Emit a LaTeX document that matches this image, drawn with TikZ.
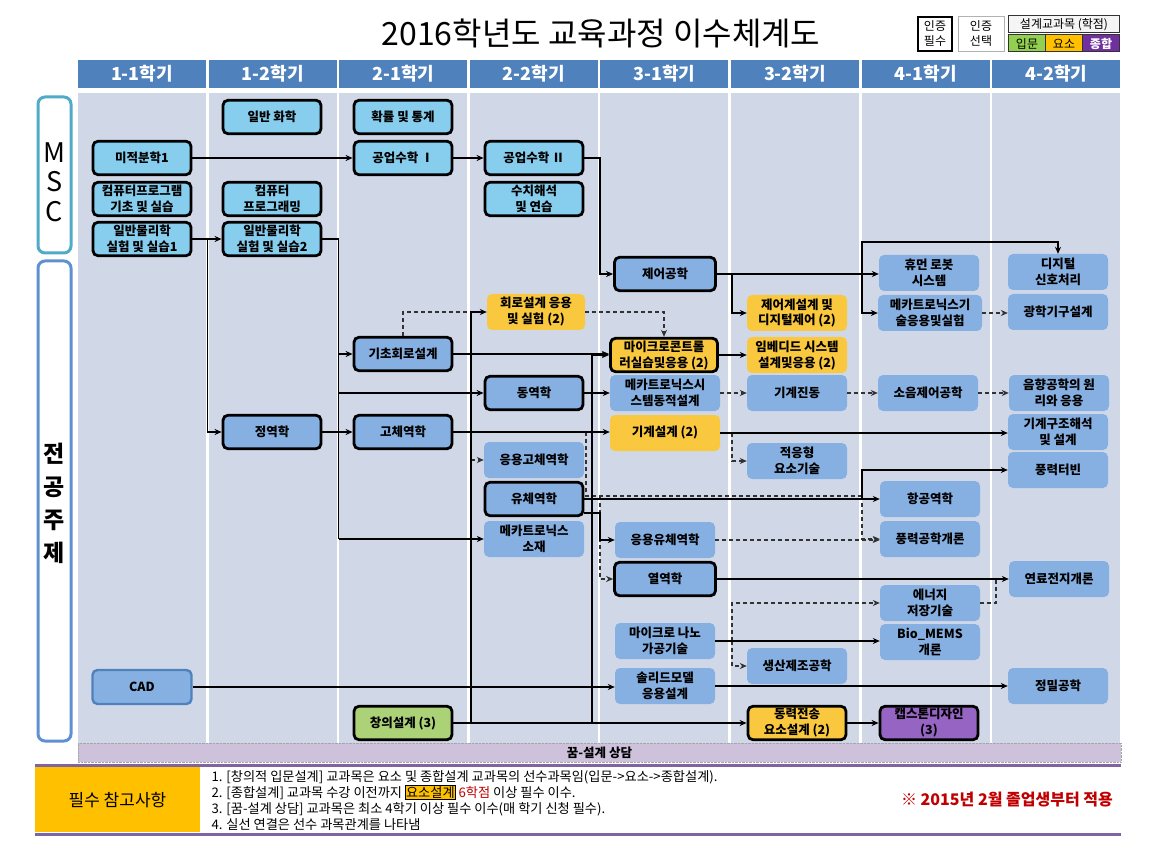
\documentclass[tikz,border=0pt]{standalone}
\usepackage{fontspec}
\setmainfont{Noto Sans CJK KR}
\usetikzlibrary{arrows.meta,calc}
\definecolor{colbg}{RGB}{208,216,232}
\definecolor{hdr}{RGB}{79,129,189}
\definecolor{mscc}{RGB}{135,206,238}
\definecolor{majc}{RGB}{135,176,226}
\definecolor{yelc}{RGB}{250,200,62}
\definecolor{grnc}{RGB}{172,210,120}
\definecolor{purc}{RGB}{150,100,195}
\definecolor{mscedge}{RGB}{80,170,200}
\definecolor{majedge}{RGB}{95,145,210}
\definecolor{bandc}{RGB}{205,193,220}
\definecolor{purline}{RGB}{128,100,162}
\definecolor{gold}{RGB}{255,192,0}
\definecolor{darkred}{RGB}{192,0,0}
\definecolor{lgreen}{RGB}{146,208,80}
\definecolor{lpurple}{RGB}{112,48,160}
\definecolor{dashc}{RGB}{50,50,50}
\newcommand\nf{\fontsize{12.5}{16}\selectfont\bfseries}
\newcommand\lf{\fontsize{12}{15}\selectfont}
\tikzset{
  box/.style={rounded corners=5pt, align=center, inner sep=0pt, minimum width=100pt, minimum height=36pt, font=\nf},
  must/.style={draw=black, line width=2.8pt, minimum width=98pt, minimum height=33.5pt},
  mscbox/.style={box, must, fill=mscc},
  blu/.style={box, fill=majc},
  blum/.style={box, must, fill=majc},
  yel/.style={box, fill=yelc},
  yelm/.style={box, must, fill=yelc},
  grnm/.style={box, must, fill=grnc},
  purm/.style={box, must, fill=purc},
  cadbox/.style={box, fill=majc, draw=hdr, line width=2.4pt, minimum width=99pt, minimum height=34pt},
  cline/.style={draw=black, line width=1.2pt},
  carrow/.style={cline, -{Stealth[length=7pt,width=6pt]}},
  dline/.style={draw=dashc, line width=1.2pt, dash pattern=on 4pt off 3pt},
  darrow/.style={dline, -{Stealth[length=7pt,width=6pt]}},
  legend/.style={inner sep=0pt, align=center, font=\lf},
}
\begin{document}
\begin{tikzpicture}[x=1pt,y=-1pt]
\useasboundingbox (0,0) rectangle (1163,853);
\fill[white] (0,0) rectangle (1163,853);

% title and legend
\node[font=\fontsize{32}{36}\selectfont] (title) at (601,33) {2016학년도 교육과정 이수체계도};
\node[legend, draw=black, line width=2.2pt, fill=white, minimum width=34pt, minimum height=34pt] (lg1) at (935,34) {인증\\필수};
\node[legend, draw=gray!60, line width=1pt, fill=white, minimum width=46pt, minimum height=35pt] (lg2) at (981,34) {인증\\선택};
\node[legend, draw=gray!40!black, line width=1pt, fill=gray!8, minimum width=111pt, minimum height=17pt] (lg3) at (1064,24.5) {설계교과목 (학점)};
\node[legend, draw=gray!40!black, line width=1pt, fill=lgreen, minimum width=37pt, minimum height=17pt] (lg4) at (1027,43.5) {입문};
\node[legend, draw=gray!40!black, line width=1pt, fill=gold, minimum width=37pt, minimum height=17pt] (lg5) at (1064,43.5) {요소};
\node[legend, draw=gray!40!black, line width=1pt, fill=lpurple, text=white, minimum width=37pt, minimum height=17pt] (lg6) at (1101,43.5) {\bfseries 종합};

% columns and headers
\foreach \i/\t in {0/1-1학기,1/1-2학기,2/2-1학기,3/2-2학기,4/3-1학기,5/3-2학기,6/4-1학기,7/4-2학기}{
  \fill[hdr] (78+\i*130.6,60) rectangle ++(128,28);
  \fill[colbg] (78+\i*130.6,93) rectangle ++(128,650);
  \node[text=white, font=\fontsize{18}{20}\selectfont\bfseries] (h\i) at (142+\i*130.6,74) {\t};
}

% side boxes
\draw[mscedge, line width=3pt, rounded corners=7pt, fill=white] (38,97) rectangle (71,253);
\node[align=center, font=\fontsize{27}{29.5}\selectfont] (msc) at (54.5,182) {M\\S\\C};
\draw[majedge, line width=3pt, rounded corners=7pt, fill=white] (38,261) rectangle (71,741);
\node[align=center, font=\fontsize{23}{33}\selectfont\bfseries] (major) at (54.5,503) {전\\공\\주\\제};

% MSC nodes
\node[mscbox] (n11a) at (142,158) {미적분학1};
\node[mscbox] (n11b) at (142,199) {컴퓨터프로그램\\기초 및 실습};
\node[mscbox] (n11c) at (142,239) {일반물리학\\실험 및 실습1};
\node[mscbox] (n12a) at (272,117) {일반 화학};
\node[mscbox] (n12b) at (272,199) {컴퓨터\\프로그래밍};
\node[mscbox] (n12c) at (272,239) {일반물리학\\실험 및 실습2};
\node[mscbox] (n21a) at (403,117) {확률 및 통계};
\node[mscbox] (n21b) at (403,158) {공업수학 Ⅰ};
\node[mscbox] (n22a) at (534,158) {공업수학 Ⅱ};
\node[mscbox] (n22b) at (534,199) {수치해석\\및 연습};

% major nodes
\node[cadbox] (cad) at (142,687) {CAD};
\node[blum] (jy) at (272,432) {정역학};
\node[blum] (gch) at (403,354) {기초회로설계};
\node[blum] (gc) at (403,432) {고체역학};
\node[grnm] (cu) at (403,723) {창의설계 (3)};
\node[yel, minimum width=98pt] (hr) at (536,312) {회로설계 응용\\및 실험 (2)};
\node[blum] (dy) at (534,393) {동역학};
\node[blu] (ugc) at (534,460) {응용고체역학};
\node[blum] (ych) at (534,499) {유체역학};
\node[blu] (mso) at (534,539) {메카트로닉스\\소재};
\node[blum, minimum width=101pt] (jeo) at (665,274) {제어공학};
\node[yelm, minimum width=107pt] (mcu) at (664,355) {마이크로콘트롤\\러실습및응용 (2)};
\node[blu, minimum width=110pt] (msd) at (665,393) {메카트로닉스시\\스템동적설계};
\node[yel, minimum width=110pt] (gs) at (665,433) {기계설계 (2)};
\node[blu] (uyc) at (665,540) {응용유체역학};
\node[blum, minimum width=101pt] (yy) at (665,579) {열역학};
\node[blu] (mn) at (665,641) {마이크로 나노\\가공기술};
\node[blu] (sm) at (665,686) {솔리드모델\\응용설계};
\node[yel] (jd) at (797,313) {제어계설계 및\\디지털제어 (2)};
\node[yel] (emb) at (797,355) {임베디드 시스템\\설계및응용 (2)};
\node[blu] (gj) at (797,393) {기계진동};
\node[blu] (ay) at (797,461) {적응형\\요소기술};
\node[blu] (sj) at (797,666) {생산제조공학};
\node[yelm] (dj) at (797,723) {동력전송\\요소설계 (2)};
\node[blu] (hb) at (929,273) {휴먼 로봇\\시스템};
\node[blu, minimum width=104pt] (mk) at (930,313) {메카트로닉스기\\술응용및실험};
\node[blu] (so) at (928,393) {소음제어공학};
\node[blu] (hg) at (930,499) {항공역학};
\node[blu] (pg) at (930,539) {풍력공학개론};
\node[blu] (es) at (930,603) {에너지\\저장기술};
\node[blu] (bm) at (930,642) {Bio\_MEMS\\개론};
\node[purm] (cap) at (929,723) {캡스톤디자인\\(3)};
\node[blu] (dsp) at (1058,272) {디지털\\신호처리};
\node[blu] (gh) at (1058,312) {광학기구설계};
\node[blu] (eh) at (1059,393) {음향공학의 원\\리와 응용};
\node[blu] (gjh) at (1058,432) {기계구조해석\\및 설계};
\node[blu] (pt) at (1058,470) {풍력터빈};
\node[blu] (fc) at (1059,579) {연료전지개론};
\node[blu] (jm) at (1058,686) {정밀공학};

% helper coordinates
\coordinate (xa) at (207.5,0);
\coordinate (xb) at (338.5,0);
\coordinate (xc) at (471,0);
\coordinate (xd) at (586,0);
\coordinate (xe) at (592,0);
\coordinate (xf) at (600,0);
\coordinate (xg) at (732,0);
\coordinate (xh) at (862,0);
\coordinate (xi) at (996,0);
\coordinate (y242) at (0,242);
\coordinate (y497) at (0,496);

% dashed connectors
\draw[dline] (gch.north) |- (xc |- hr.west);
\draw[darrow] (gc.east -| xc) |- (ugc.west);
\draw[dline] (gc.east -| xd) -- (xd |- y497) -- (xh |- y497);
\draw[darrow] (xh |- y497) |- (pg.west);
\draw[darrow] (xf |- y497) |- (yy.west);
\draw[darrow] (uyc.east) -- (uyc.east -| pg.west);
\draw[darrow] (mk) -- (mk -| gh.west);
\draw[darrow] (hr.east) -| (mcu.north);
\draw[darrow] (msd) -- (msd -| gj.west);
\draw[darrow] (gj) -- (gj -| so.west);
\draw[darrow] (so) -- (so -| eh.west);
\draw[darrow] (gs.east -| xg) |- (ay.west);
\draw[dline] (es.east) -| (xi |- fc.west);
\draw[darrow] (mn.east -| xg) |- (es.west);
\draw[darrow] (mn.east -| xg) |- (sj.west);

% solid connectors
\draw[carrow] (n11a) -- (n21b);
\draw[carrow] (n21b) -- (n22a);
\draw[carrow] (n22a.east) -| (xf |- jeo.west) -- (jeo.west);
\draw[carrow] (n11c) -- (n12c);
\draw[carrow] (n11c.east -| xa) |- (jy.west);
\draw[cline] (n12c.east) -- (n12c.east -| xb) -- (xb |- mso.west);
\draw[carrow] (xb |- gch.west) -- (gch.west);
\draw[carrow] (xb |- dy.west) -- (dy.west);
\draw[carrow] (xb |- mso.west) -- (mso.west);
\draw[carrow] (jy) -- (gc);
\draw[carrow] (gch.east) -- (gch.east -| mcu.west);
\draw[carrow] (cu) -- (dj);
\draw[carrow] (cu.east -| xc) |- (hr.west);
\draw[carrow] (cu.east -| xe) |- (mcu.west);
\draw[carrow] (dy) -- (msd);
\draw[carrow] (gc.east) -- (gc.east -| gs.west);
\draw[carrow] (ych.east) -- (ych.east -| hg.west);
\draw[carrow] (ych.east -| xh) |- (pt.west);
\draw[carrow] ($(ych.east)+(0,14)$) -| (xf |- uyc.west) -- (uyc.west);
\draw[carrow] (jeo) -- (jeo -| hb.west);
\draw[carrow] (jeo.east -| xg) |- (jd.west);
\draw[carrow] (jeo.east -| xh) |- (mk.west);
\draw[carrow] (jeo.east -| xh) |- (dsp.north |- y242) -- (dsp.north);
\draw[carrow] (mcu) -- (mcu -| emb.west);
\draw[carrow] (gs) -- (gs -| gjh.west);
\draw[carrow] (yy) -- (yy -| fc.west);
\draw[carrow] (mn) -- (mn -| bm.west);
\draw[carrow] (cad) -- (cad -| sm.west);
\draw[carrow] (sm) -- (sm -| jm.west);
\draw[carrow] (dj) -- (cap);

% band
\node[fill=bandc, draw=gray!70, densely dotted, minimum width=1043pt, minimum height=19pt, inner sep=0pt, font=\fontsize{12.5}{14}\selectfont\bfseries] (band) at (599.5,752.5) {꿈-설계 상담};

% footer
\draw[purline, line width=3pt] (35,765) -- (1121,765);
\draw[purline, line width=3pt] (35,834) -- (1121,834);
\fill[gold] (35,767) rectangle (200,832);
\node[font=\fontsize{17}{19}\selectfont] (must) at (117.5,800) {필수 참고사항};
\node[anchor=west, align=left, font=\fontsize{13.2}{16}\selectfont] (notes) at (208,800) {1. [창의적 입문설계] 교과목은 요소 및 종합설계 교과목의 선수과목임(입문->요소->종합설계).\\
2. [종합설계] 교과목 수강 이전까지 {\setlength\fboxsep{0.6pt}\fcolorbox{black}{gold}{요소설계}} \textcolor{darkred}{6학점} 이상 필수 이수.\\
3. [꿈-설계 상담] 교과목은 최소 4학기 이상 필수 이수(매 학기 신청 필수).\\
4. 실선 연결은 선수 과목관계를 나타냄};
\node[text=darkred, font=\fontsize{16}{18}\selectfont\bfseries] (applies) at (1007,800) {※ 2015년 2월 졸업생부터 적용};
\end{tikzpicture}
\end{document}
